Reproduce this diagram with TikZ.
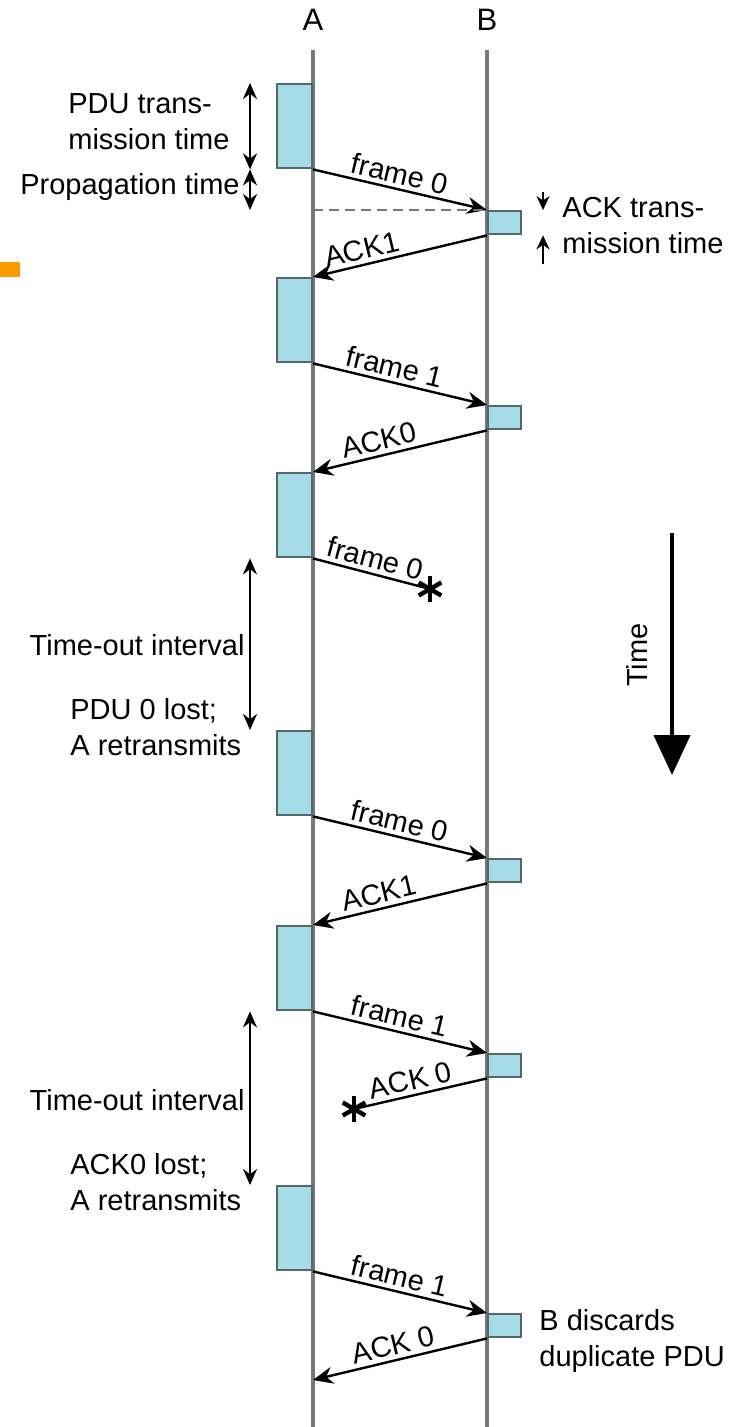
\documentclass[tikz,border=0pt]{standalone}
\usepackage{fontspec}
\setmainfont{Liberation Sans}
\usepackage{tikz}
\usetikzlibrary{arrows.meta,calc,positioning}

\definecolor{pdufill}{RGB}{166,220,232}
\definecolor{pdudraw}{RGB}{84,104,108}
\definecolor{lifegray}{RGB}{120,120,120}
\definecolor{marker}{RGB}{255,153,0}

\begin{document}
\begin{tikzpicture}[
    x=0.5pt, y=-0.5pt,
    font=\fontsize{14.5}{18}\selectfont,
    lifeline/.style={draw=lifegray, line width=1.7pt},
    abox/.style={draw=pdudraw, fill=pdufill, line width=1.2pt, inner sep=0pt,
                 minimum width=17.5pt, minimum height=42pt, anchor=north east},
    bbox/.style={draw=pdudraw, fill=pdufill, line width=1.2pt, inner sep=0pt,
                 minimum width=16.5pt, minimum height=11.5pt, anchor=north west},
    msg/.style={-{Stealth[length=10pt,width=8.5pt]}, line width=1.2pt},
    lost/.style={line width=1.2pt},
    lbl/.style={sloped, above, inner sep=2pt},
    span/.style={{Stealth[length=8pt,width=7pt]}-{Stealth[length=8pt,width=7pt]}, line width=1.1pt},
    tick/.style={-{Stealth[length=7pt,width=6.5pt]}, line width=1.1pt},
    note/.style={align=left, inner sep=0pt}
]
    \useasboundingbox (0,0) rectangle (744,1427);

    % lifelines
    \node (A) at (313,20) {\fontsize{15.5}{18}\selectfont A};
    \node (B) at (487,20) {\fontsize{15.5}{18}\selectfont B};
    \draw[lifeline] (313,50) -- (313,1427);
    \draw[lifeline] (487,50) -- (487,1427);

    % PDUs sent by A
    \node[abox] (a1) at (313,83) {};
    \node[abox] (a2) at (313,277) {};
    \node[abox] (a3) at (313,472) {};
    \node[abox] (a4) at (313,730) {};
    \node[abox] (a5) at (313,925) {};
    \node[abox] (a6) at (313,1185) {};

    % ACKs sent by B
    \node[bbox] (b1) at (487,210) {};
    \node[bbox] (b2) at (487,405) {};
    \node[bbox] (b3) at (487,858) {};
    \node[bbox] (b4) at (487,1053) {};
    \node[bbox] (b5) at (487,1313) {};

    \coordinate (lost1) at (430,589);
    \coordinate (lost2) at (354,1109);
    \coordinate (aend) at (313,1380);
    \coordinate (tx) at (250,0);
    \coordinate (rx) at (543,0);

    % messages
    \draw[msg] (a1.south east) -- node[lbl, pos=0.48] {frame 0} (b1.north west);
    \draw[msg] (b1.south west) -- node[lbl, pos=0.7] {ACK1} (a2.north east);
    \draw[msg] (a2.south east) -- node[lbl, pos=0.45] {frame 1} (b2.north west);
    \draw[msg] (b2.south west) -- node[lbl, pos=0.6] {ACK0} (a3.north east);
    \draw[lost] (a3.south east) -- node[lbl, pos=0.5] {frame 0} (lost1);
    \draw[msg] (a4.south east) -- node[lbl, pos=0.48] {frame 0} (b3.north west);
    \draw[msg] (b3.south west) -- node[lbl, pos=0.6] {ACK1} (a5.north east);
    \draw[msg] (a5.south east) -- node[lbl, pos=0.48] {frame 1} (b4.north west);
    \draw[lost] (b4.south west) -- node[lbl, pos=0.55] {ACK 0} (lost2);
    \draw[msg] (a6.south east) -- node[lbl, pos=0.48] {frame 1} (b5.north west);
    \draw[msg] (b5.south west) -- node[lbl, pos=0.52] {ACK 0} (aend);

    % lost PDUs
    \foreach \p in {lost1,lost2}
        \foreach \a in {90,30,150}
            \draw[line width=2.2pt] ($(\p)+(\a:13)$) -- ($(\p)+(\a+180:13)$);

    \draw[lifegray, line width=1.3pt, dash pattern=on 5pt off 3pt]
        (a1.south east |- b1.north west) -- (b1.north west);

    % timing annotations
    \draw[span] (tx |- a1.north east) -- (tx |- a1.south east);
    \draw[span] (tx |- a1.south east) -- (tx |- b1.north west);
    \draw[span] (tx |- a3.south east) -- (tx |- a4.north east);
    \draw[span] (tx |- a5.south east) -- (tx |- a6.north east);
    \draw[tick] ($(rx |- b1.north west)+(0,-18)$) -- (rx |- b1.north west);
    \draw[tick] ($(rx |- b1.south west)+(0,29)$) -- (rx |- b1.south west);

    \node[note, anchor=west] (pdutx) at (68,122) {PDU trans-\\mission time};
    \node[note, anchor=east] (prop) at (240,187) {Propagation time};
    \node[note, anchor=west] (acktx) at (562,226) {ACK trans-\\mission time};
    \node[note, anchor=east] (tout1) at (245,645) {Time-out interval};
    \node[note, anchor=west] (lost1txt) at (70,727) {PDU 0 lost;\\A retransmits};
    \node[note, anchor=east] (tout2) at (245,1100) {Time-out interval};
    \node[note, anchor=west] (lost2txt) at (70,1182) {ACK0 lost;\\A retransmits};
    \node[note, anchor=west] (dup) at (539,1341) {B discards\\duplicate PDU};

    % time axis
    \coordinate (t0) at (672,533);
    \coordinate (t1) at (672,775);
    \draw[-{Triangle[length=20pt,width=18pt]}, line width=2.2pt] (t0) -- (t1);
    \node[rotate=90] (time) at (637,655) {Time};

    \fill[marker] (0,262) rectangle (20,277);
\end{tikzpicture}
\end{document}
